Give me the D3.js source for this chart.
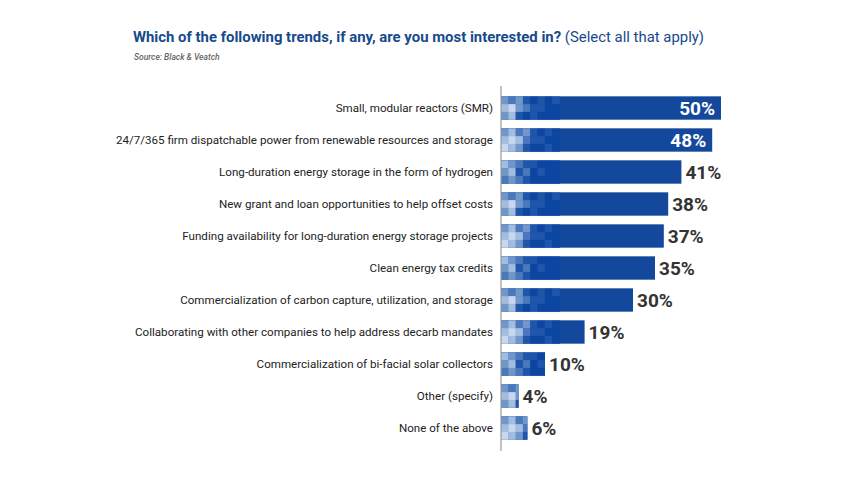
<!DOCTYPE html>
<html lang="en">
<head>
<meta charset="UTF-8">
<title>Trends of interest</title>
<script src="https://d3js.org/d3.v7.min.js"></script>
<style>
  body { margin: 0; background: #fff; font-family: Roboto, "Noto Sans", sans-serif; }
  svg { display: block; }
</style>
</head>
<body>
<svg id="chart" width="853" height="480"></svg>
<script>
// chart data
const categories = [
  "Small, modular reactors (SMR)",
  "24/7/365 firm dispatchable power from renewable resources and storage",
  "Long-duration energy storage in the form of hydrogen",
  "New grant and loan opportunities to help offset costs",
  "Funding availability for long-duration energy storage projects",
  "Clean energy tax credits",
  "Commercialization of carbon capture, utilization, and storage",
  "Collaborating with other companies to help address decarb mandates",
  "Commercialization of bi-facial solar collectors",
  "Other (specify)",
  "None of the above"
];
const values = [50, 48, 41, 38, 37, 35, 30, 19, 10, 4, 6];
const insideLabels = [true, true, false, false, false, false, false, false, false, false, false];

// mosaic shading patterns for the left end of the bars (3 rows x 8 cells, 0 = lightest)
const mosaics = [
  [[2, 3, 2, 4, 5, 4, 5, 4],
   [1, 0, 2, 3, 4, 4, 5, 5],
   [2, 1, 4, 5, 4, 5, 5, 5]],
  [[2, 1, 3, 2, 4, 5, 4, 5],
   [1, 0, 1, 3, 4, 4, 5, 5],
   [0, 1, 2, 4, 5, 5, 4, 5]],
  [[1, 2, 3, 4, 4, 5, 5, 5],
   [2, 1, 4, 3, 5, 4, 5, 5],
   [3, 2, 3, 4, 5, 5, 5, 5]]
];
const shades = ["#c9d7ec", "#a3bde0", "#7196cc", "#4a78bd", "#1f56ab", "#0b47a2"];
const barColor = "#14489c";

const svg = d3.select("#chart");

// title
const title = svg.append("text").attr("x", 133).attr("y", 42)
  .attr("font-size", 14.9).attr("fill", "#174a8c");
title.append("tspan").attr("font-weight", 700)
  .text("Which of the following trends, if any, are you most interested in? ");
title.append("tspan").attr("font-weight", 400).text("(Select all that apply)");

svg.append("text").attr("x", 134).attr("y", 60)
  .attr("font-size", 8.5).attr("font-style", "italic").attr("font-weight", 500)
  .attr("fill", "#666").text("Source: Black & Veatch");

const x0 = 501;
const x = d3.scaleLinear().domain([0, 50]).range([x0, 721]);
const y = d3.scaleBand().domain(categories).range([92, 444]).paddingInner(0.27).paddingOuter(0.135);

const g = svg.append("g");

categories.forEach((c, i) => {
  const top = y(c);
  const h = y.bandwidth();
  const w = x(values[i]) - x0;
  const bar = g.append("g");
  bar.append("rect").attr("x", x0).attr("y", top).attr("width", w).attr("height", h)
    .attr("fill", barColor);
  const clipId = "clip" + i;
  bar.append("clipPath").attr("id", clipId)
    .append("rect").attr("x", x0).attr("y", top).attr("width", w).attr("height", h);
  const cw = 7.3, ch = h / 3;
  const mg = bar.append("g").attr("clip-path", `url(#${clipId})`);
  mosaics[i % 3].forEach((row, r) => {
    row.forEach((lvl, k) => {
      mg.append("rect").attr("x", x0 + k * cw).attr("y", top + r * ch)
        .attr("width", cw + 0.3).attr("height", ch + 0.3)
        .attr("fill", shades[lvl]);
    });
  });

  // category label
  g.append("text").attr("x", 493).attr("y", top + h / 2).attr("dy", "0.35em")
    .attr("text-anchor", "end").attr("font-size", 11.6).attr("fill", "#222").text(c);

  // value label
  const inside = insideLabels[i];
  g.append("text")
    .attr("x", inside ? x(values[i]) - 6 : x(values[i]) + 4)
    .attr("y", top + h / 2).attr("dy", "0.36em")
    .attr("text-anchor", inside ? "end" : "start")
    .attr("font-size", 19).attr("font-weight", 700)
    .attr("fill", inside ? "#fff" : "#333")
    .text(values[i] + "%");
});

// vertical axis line
svg.append("line").attr("x1", x0).attr("x2", x0).attr("y1", 86).attr("y2", 451)
  .attr("stroke", "#9a9a9a").attr("stroke-width", 1.2);
</script>
</body>
</html>
